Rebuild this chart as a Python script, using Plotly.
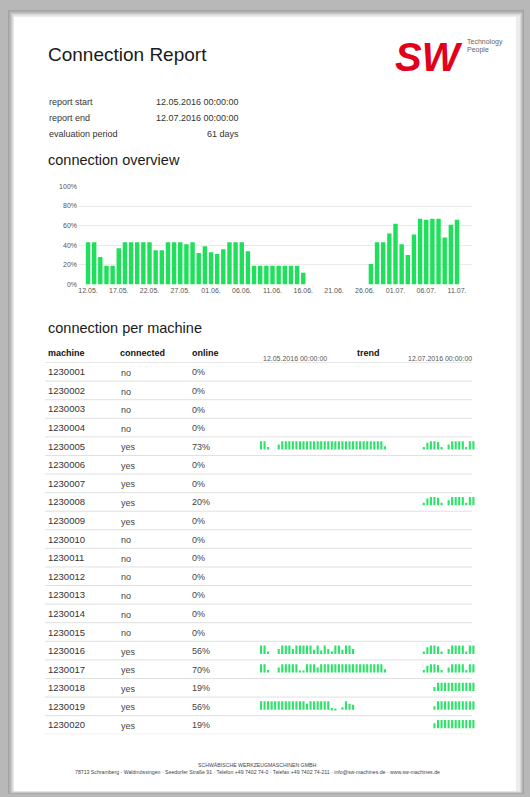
import plotly.graph_objects as go
import pandas as pd

# ---------------- data ----------------
title = "Connection Report"
info_labels = ["report start", "report end", "evaluation period"]
info_values = ["12.05.2016 00:00:00", "12.07.2016 00:00:00", "61 days"]

overview_start = "2016-05-12"
overview_pct = [43, 43, 28, 19, 19, 37, 43, 43, 43, 43,
                43, 35, 35, 43, 43, 43, 41, 43, 32, 39,
                33, 31, 36, 43, 43, 43, 34, 19, 19, 19,
                19, 19, 19, 19, 19, 12, 0, 0, 0, 0,
                0, 0, 0, 0, 0, 0, 21, 43, 43, 52,
                62, 41, 30, 51, 67, 66, 67, 67, 48, 61,
                66]
overview_tick_dates = ["2016-05-12", "2016-05-17", "2016-05-22", "2016-05-27",
                       "2016-06-01", "2016-06-06", "2016-06-11", "2016-06-16",
                       "2016-06-21", "2016-06-26", "2016-07-01", "2016-07-06",
                       "2016-07-11"]
overview_tick_labels = ["12.05.", "17.05.", "22.05.", "27.05.", "01.06.", "06.06.",
                        "11.06.", "16.06.", "21.06.", "26.06.", "01.07.", "06.07.",
                        "11.07."]
y_ticks = [0, 20, 40, 60, 80, 100]
y_tick_labels = ["0%", "20%", "40%", "60%", "80%", "100%"]

machines = ["1230001", "1230002", "1230003", "1230004", "1230005", "1230006",
            "1230007", "1230008", "1230009", "1230010", "1230011", "1230012",
            "1230013", "1230014", "1230015", "1230016", "1230017", "1230018",
            "1230019", "1230020"]
connected = ["no", "no", "no", "no", "yes", "yes", "yes", "yes", "yes", "no",
             "no", "no", "no", "no", "no", "yes", "yes", "yes", "yes", "yes"]
online = ["0%", "0%", "0%", "0%", "73%", "0%", "0%", "20%", "0%", "0%",
          "0%", "0%", "0%", "0%", "0%", "56%", "70%", "19%", "56%", "19%"]

trend_start_label = "12.05.2016 00:00:00"
trend_end_label = "12.07.2016 00:00:00"

trend_1230005 = [1, 1, 0.3, 0, 0, 0.6, 1, 1, 1, 1,
                 1, 1, 1, 1, 1, 1, 1, 1, 1, 1,
                 1, 1, 1, 1, 1, 1, 1, 1, 1, 1,
                 1, 1, 1, 1, 1, 0.4, 0, 0, 0, 0,
                 0, 0, 0, 0, 0, 0, 0.3, 0.8, 1, 1,
                 0.9, 0.3, 0, 0.6, 1, 1, 1, 1, 0.3, 1,
                 1]
trend_1230008 = [0, 0, 0, 0, 0, 0, 0, 0, 0, 0,
                 0, 0, 0, 0, 0, 0, 0, 0, 0, 0,
                 0, 0, 0, 0, 0, 0, 0, 0, 0, 0,
                 0, 0, 0, 0, 0, 0, 0, 0, 0, 0,
                 0, 0, 0, 0, 0, 0, 0.3, 0.8, 1, 1,
                 0.9, 0.3, 0, 0.6, 1, 1, 1, 1, 0.3, 1,
                 1]
trend_1230016 = [1, 1, 0.3, 0, 0, 0.6, 1, 1, 1, 0.6,
                 1, 1, 1, 1, 1, 0.5, 1, 0.4, 1, 0.6,
                 0.3, 1, 1, 0.5, 1, 1, 0.6, 0, 0, 0,
                 0, 0, 0, 0, 0, 0, 0, 0, 0, 0,
                 0, 0, 0, 0, 0, 0, 0.3, 0.8, 1, 1,
                 0.9, 0.3, 0, 0.6, 1, 1, 1, 1, 0.3, 1,
                 1]
trend_1230017 = [1, 1, 0.3, 0, 0, 0.6, 1, 1, 1, 1,
                 1, 0.2, 0.2, 1, 1, 1, 0.6, 1, 1, 1,
                 1, 1, 1, 1, 1, 1, 1, 1, 1, 1,
                 1, 1, 1, 1, 1, 0.4, 0, 0, 0, 0,
                 0, 0, 0, 0, 0, 0, 0.3, 0.8, 1, 1,
                 0.9, 0.3, 0, 0.6, 1, 1, 1, 1, 0.3, 1,
                 1]
trend_1230018 = [0, 0, 0, 0, 0, 0, 0, 0, 0, 0,
                 0, 0, 0, 0, 0, 0, 0, 0, 0, 0,
                 0, 0, 0, 0, 0, 0, 0, 0, 0, 0,
                 0, 0, 0, 0, 0, 0, 0, 0, 0, 0,
                 0, 0, 0, 0, 0, 0, 0, 0, 0, 0.5,
                 1, 1, 1, 1, 1, 1, 1, 1, 1, 1,
                 1]
trend_1230019 = [1, 1, 1, 1, 1, 1, 1, 1, 1, 1,
                 1, 1, 1, 0.7, 1, 1, 1, 1, 1, 1,
                 0.2, 0.1, 0, 0.3, 1, 0.7, 0.6, 0, 0, 0,
                 0, 0, 0, 0, 0, 0, 0, 0, 0, 0,
                 0, 0, 0, 0, 0, 0, 0, 0, 0, 0.4,
                 1, 1, 1, 1, 1, 1, 1, 1, 1, 1,
                 1]
trend_1230020 = [0, 0, 0, 0, 0, 0, 0, 0, 0, 0,
                 0, 0, 0, 0, 0, 0, 0, 0, 0, 0,
                 0, 0, 0, 0, 0, 0, 0, 0, 0, 0,
                 0, 0, 0, 0, 0, 0, 0, 0, 0, 0,
                 0, 0, 0, 0, 0, 0, 0, 0, 0, 0.6,
                 1, 1, 1, 1, 1, 1, 1, 1, 1, 1,
                 1]

trends = {"1230005": trend_1230005, "1230008": trend_1230008,
          "1230016": trend_1230016, "1230017": trend_1230017,
          "1230018": trend_1230018, "1230019": trend_1230019,
          "1230020": trend_1230020}

footer_1 = "SCHWÄBISCHE WERKZEUGMASCHINEN GMBH"
footer_2 = ("78713 Schramberg - Waldmössingen · Seedorfer Straße 91 · Telefon +49 7402 74-0 · "
            "Telefax +49 7402 74-211 · info@sw-machines.de · www.sw-machines.de")

# ---------------- layout helpers ----------------
W, H = 530, 797
FONT = "Liberation Sans, Arial, Helvetica, sans-serif"
GREEN = "#1fe05a"
GREEN2 = "#2fe36a"


def px(x):
    return x / W


def py(y):
    return 1 - y / H


day = pd.Timedelta(days=1)
start = pd.Timestamp(overview_start)
days = pd.date_range(start, periods=len(overview_pct), freq="D")

fig = go.Figure()

# overview bars
fig.add_trace(go.Bar(x=days, y=overview_pct, marker=dict(color=GREEN, line=dict(width=0)),
                     width=0.72 * 86400000, xaxis="x", yaxis="y", hoverinfo="skip",
                     showlegend=False))

# sparkline bars
sx, sy, sb = [], [], []
for r, m in enumerate(machines):
    if m in trends:
        for d, v in enumerate(trends[m]):
            if v > 0:
                sx.append(d)
                sy.append(-0.45 * v)
                sb.append(r + 0.68)
fig.add_trace(go.Bar(x=sx, y=sy, base=sb, marker=dict(color=GREEN2, line=dict(width=0)),
                     width=0.6, xaxis="x2", yaxis="y2", hoverinfo="skip", showlegend=False))

shapes = []
# page background with soft shadow
shapes.append(dict(type="rect", xref="paper", yref="paper", layer="below",
                   x0=px(0), x1=px(530), y0=py(797), y1=py(0),
                   fillcolor="#b8b8b8", line=dict(width=0)))
for i, col in enumerate(["#a3a3a3", "#b3b3b3", "#c6c6c6", "#dadada", "#ececec"]):
    shapes.append(dict(type="rect", xref="paper", yref="paper", layer="below",
                       x0=px(8 + i * 1.3), x1=px(524 - i), y0=py(797 - i * 0.6), y1=py(6 + i * 1.4),
                       fillcolor=col, line=dict(width=0)))
shapes.append(dict(type="rect", xref="paper", yref="paper", layer="below",
                   x0=px(14), x1=px(516), y0=py(794), y1=py(13),
                   fillcolor="white", line=dict(width=0)))
# table lines
for k in range(len(machines) + 1):
    shapes.append(dict(type="line", xref="paper", yref="y2", x0=px(45), x1=px(472),
                       y0=k, y1=k, line=dict(color="#cfcfcf" if k == 0 else "#e0e0e0", width=1)))

ann = []


def text(x, y, s, size, color="#333", anchor="left", yref="paper", bold=False):
    ann.append(dict(x=px(x), y=py(y) if yref == "paper" else y, xref="paper", yref=yref,
                    text=("<b>%s</b>" % s) if bold else s, showarrow=False,
                    xanchor=anchor, yanchor="middle",
                    font=dict(family=FONT, size=size, color=color)))


text(45.5, 51, title, 19, "#1a1a1a")
# logo
ann.append(dict(x=px(393), y=py(53), xref="paper", yref="paper", text="SW",
                showarrow=False, xanchor="left", yanchor="middle",
                font=dict(family=FONT, size=40, color="#e3001b", weight="bold", style="italic")))
text(465, 38, "Technology", 7, "#666")
text(465, 46, "People", 7, "#666")

for i, (lab, val) in enumerate(zip(info_labels, info_values)):
    text(47, 99 + 16 * i, lab, 9, "#333")
    text(241, 99 + 16 * i, val, 9, "#333", anchor="right")

text(46, 157, "connection overview", 14.5, "#1a1a1a")
text(46, 327, "connection per machine", 14.5, "#1a1a1a")

# table header
text(46, 352.5, "machine", 9, "#111", bold=True)
text(118, 352.5, "connected", 9, "#111", bold=True)
text(190, 352.5, "online", 9, "#111", bold=True)
text(355, 352.5, "trend", 9, "#111", bold=True)
text(261, 357.5, trend_start_label, 7, "#555")
text(406, 357.5, trend_end_label, 7, "#555")

for r, (m, c, o) in enumerate(zip(machines, connected, online)):
    ann.append(dict(x=px(46), y=r + 0.5, xref="paper", yref="y2", text=m, showarrow=False,
                    xanchor="left", yanchor="middle", font=dict(family=FONT, size=9.5, color="#333")))
    ann.append(dict(x=px(119), y=r + 0.56, xref="paper", yref="y2", text=c, showarrow=False,
                    xanchor="left", yanchor="middle", font=dict(family=FONT, size=9, color="#444")))
    ann.append(dict(x=px(190), y=r + 0.53, xref="paper", yref="y2", text=o, showarrow=False,
                    xanchor="left", yanchor="middle", font=dict(family=FONT, size=9, color="#444")))

text(257, 767.5, footer_1, 5.2, "#444", anchor="center")
text(257, 775, footer_2, 5.2, "#444", anchor="center")

fig.update_layout(
    width=W, height=H, margin=dict(l=0, r=0, t=0, b=0),
    paper_bgcolor="#b8b8b8", plot_bgcolor="rgba(0,0,0,0)",
    showlegend=False, barmode="overlay",
    xaxis=dict(domain=[px(78), px(472)], type="date",
               range=[start - 1.63 * day, start + 62.44 * day],
               tickvals=overview_tick_dates, ticktext=overview_tick_labels,
               showgrid=False, zeroline=False, showline=False, ticks="",
               tickfont=dict(family=FONT, size=7, color="#555"), anchor="y", fixedrange=True),
    yaxis=dict(domain=[py(283), py(184)], range=[0, 100], tickvals=y_ticks,
               ticktext=y_tick_labels, gridcolor="#ebebeb", gridwidth=1, zeroline=False,
               showline=False, ticks="", tickfont=dict(family=FONT, size=7, color="#555"),
               anchor="x", fixedrange=True),
    xaxis2=dict(domain=[px(255), px(478)], range=[-1.7, 61.3], visible=False, anchor="y2"),
    yaxis2=dict(domain=[py(736.7), py(361.7)], range=[20, 0], visible=False, anchor="x2"),
    shapes=shapes, annotations=ann,
)

fig.write_html("out.html", config={"displayModeBar": False},
               post_script="document.body.style.margin='0';document.body.style.overflow='hidden';")
